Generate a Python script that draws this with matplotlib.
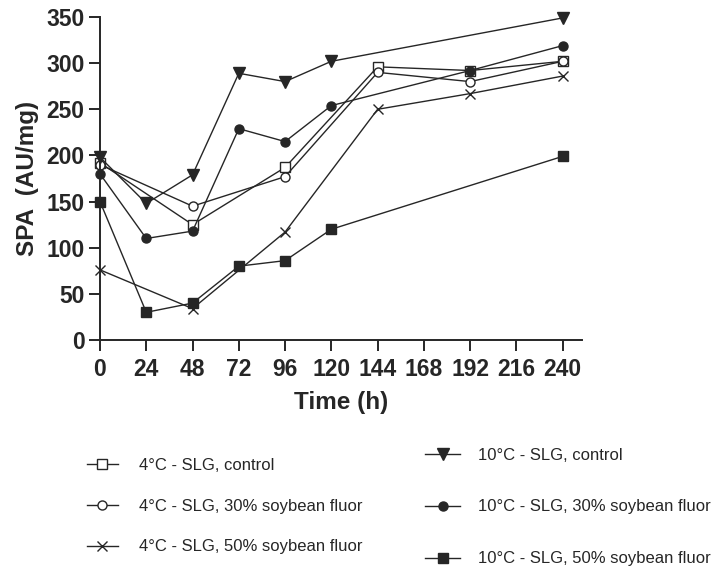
import matplotlib
matplotlib.use("Agg")
import matplotlib.pyplot as plt

plt.rcParams['font.family'] = ['Liberation Sans', 'DejaVu Sans']

# Data
t_4c_ctrl = [0, 48, 96, 144, 192, 240]
v_4c_ctrl = [192, 125, 187, 296, 292, 302]
t_4c_30 = [0, 48, 96, 144, 192, 240]
v_4c_30 = [190, 145, 177, 290, 280, 302]
t_4c_50 = [0, 48, 96, 144, 192, 240]
v_4c_50 = [76, 34, 117, 250, 267, 286]
t_10c_ctrl = [0, 24, 48, 72, 96, 120, 240]
v_10c_ctrl = [198, 148, 179, 289, 280, 302, 349]
t_10c_30 = [0, 24, 48, 72, 96, 120, 192, 240]
v_10c_30 = [180, 110, 118, 229, 215, 254, 292, 319]
t_10c_50 = [0, 24, 48, 72, 96, 120, 240]
v_10c_50 = [150, 30, 40, 80, 86, 120, 199]

x_ticks = [0, 24, 48, 72, 96, 120, 144, 168, 192, 216, 240]
y_ticks = [0, 50, 100, 150, 200, 250, 300, 350]

labels_left = ["4°C - SLG, control", "4°C - SLG, 30% soybean fluor", "4°C - SLG, 50% soybean fluor"]
labels_right = ["10°C - SLG, control", "10°C - SLG, 30% soybean fluor", "10°C - SLG, 50% soybean fluor"]

W, H = 714, 574
fig = plt.figure(figsize=(W / 100, H / 100), dpi=100)
ax = fig.add_axes([100 / W, 1 - 340 / H, 482 / W, 323 / H])

c = '#262626'
lw = 1.0
styles = [
    dict(marker='s', mfc='white', mec=c, ms=6.5),
    dict(marker='o', mfc='white', mec=c, ms=6.5),
    dict(marker='x', mfc=c, mec=c, ms=7, mew=1.0),
    dict(marker='v', mfc=c, mec=c, ms=8),
    dict(marker='o', mfc=c, mec=c, ms=6.5),
    dict(marker='s', mfc=c, mec=c, ms=6.5),
]
series = [(t_4c_ctrl, v_4c_ctrl), (t_4c_30, v_4c_30), (t_4c_50, v_4c_50),
          (t_10c_ctrl, v_10c_ctrl), (t_10c_30, v_10c_30), (t_10c_50, v_10c_50)]
handles = []
for (t, v), st in zip(series, styles):
    h, = ax.plot(t, v, color=c, lw=lw, clip_on=False, **st)
    handles.append(h)

ax.set_xlim(0, 250)
ax.set_ylim(0, 350)
ax.set_xticks(x_ticks)
ax.set_yticks(y_ticks)
for s in ['top', 'right']:
    ax.spines[s].set_visible(False)
for s in ['left', 'bottom']:
    ax.spines[s].set_linewidth(1.4)
    ax.spines[s].set_color(c)
ax.tick_params(axis='both', direction='out', length=8, width=1.4, color=c,
               labelsize=16.5, labelcolor=c, pad=3)
ax.tick_params(axis='x', pad=5)
for lab in ax.get_xticklabels() + ax.get_yticklabels():
    lab.set_fontweight('bold')
ax.set_xlabel("Time (h)", fontsize=17.5, fontweight='bold', color=c, labelpad=7)
ax.set_ylabel("SPA  (AU/mg)", fontsize=17.5, fontweight='bold', color=c, labelpad=5)

# Legend entries
left_y = [465, 506, 547]
right_y = [455, 507, 559]
for h, lab, y in zip(handles[:3], labels_left, left_y):
    fig.legend(handles=[h], labels=[lab], loc='center left',
               bbox_to_anchor=(87 / W, 1 - y / H), frameon=False,
               borderpad=0, borderaxespad=0, handlelength=1.85,
               handletextpad=1.25, fontsize=12, labelcolor=c)
for h, lab, y in zip(handles[3:], labels_right, right_y):
    fig.legend(handles=[h], labels=[lab], loc='center left',
               bbox_to_anchor=(425 / W, 1 - y / H), frameon=False,
               borderpad=0, borderaxespad=0, handlelength=2.1,
               handletextpad=1.1, fontsize=12, labelcolor=c)

fig.savefig("out.png", dpi=100)
